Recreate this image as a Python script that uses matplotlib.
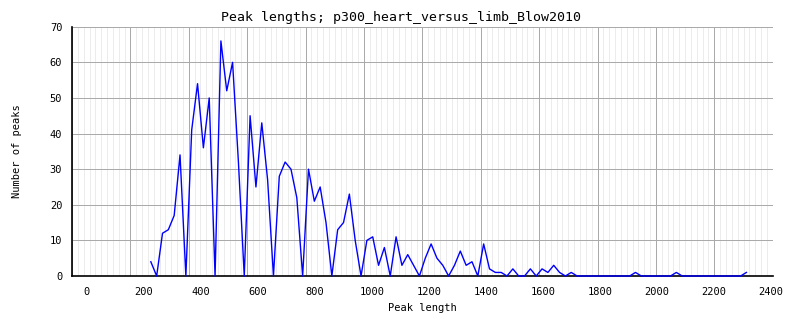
import numpy as np
import matplotlib
matplotlib.use("Agg")
import matplotlib.pyplot as plt

# Peak length bins (20-unit bins)
lengths = np.arange(270, 2311, 20)
counts = [4, 0, 12, 13, 17, 34, 0, 41, 54, 36, 50, 0, 66, 52, 60, 32, 0,
          45, 25, 43, 27, 0, 28, 32, 30, 22, 0, 30, 21, 25, 15, 0,
          13, 15, 23, 10, 0, 10, 11, 3, 8, 0, 11, 3, 6, 3, 0,
          5, 9, 5, 3, 0, 3, 7, 3, 4, 0, 9, 2, 1, 1, 0,
          2, 0, 0, 2, 0, 2, 1, 3, 1, 0, 1,
          0, 0, 0, 0, 0, 0, 0, 0, 0, 0,
          1,
          0, 0, 0, 0, 0, 0,
          1,
          0, 0, 0, 0, 0, 0, 0, 0, 0, 0, 0,
          1]

xticks = list(range(0, 2401, 200))
yticks = list(range(0, 71, 10))
title = "Peak lengths; p300_heart_versus_limb_Blow2010"
xlabel = "Peak length"
ylabel = "Number of peaks"

plt.rcParams['font.family'] = ['DejaVu Sans Mono']

W, H = 802, 328
fig = plt.figure(figsize=(W / 100, H / 100), dpi=100)
fig.patch.set_facecolor('white')
ax = fig.add_axes([72 / W, 52 / H, 700.7 / W, 249.3 / H])
ax.set_xlim(0, 2400)
ax.set_ylim(0, 70)
ax.set_xticks(xticks)
ax.set_xticks(list(range(0, 2401, 20)), minor=True)
ax.set_yticks(yticks)
ax.grid(which='major', color='#aaaaaa', lw=0.72, antialiased=False)
ax.grid(which='minor', axis='x', color='#ececec', lw=0.72, antialiased=False)
ax.set_axisbelow(True)
ax.tick_params(axis='x', which='both', length=0, labelbottom=False)
ax.tick_params(axis='y', which='both', length=0, labelsize=7.5, pad=7)
for s in ['top', 'right']:
    ax.spines[s].set_visible(False)
for s in ['left', 'bottom']:
    ax.spines[s].set_color('black')
    ax.spines[s].set_linewidth(1.2)

ax.plot(lengths, counts, color='#0000ff', lw=1.0, zorder=4, clip_on=False)

ax.set_ylabel(ylabel, fontsize=7.5)
ax.yaxis.set_label_coords(-0.071, 0.5)

# tick labels axis (labels are laid out on a slightly different scale)
ax2 = ax.twiny()
ax2.set_xlim(-51.2, 2406)
ax2.xaxis.set_ticks_position('bottom')
ax2.xaxis.set_label_position('bottom')
ax2.set_xticks(xticks)
ax2.tick_params(axis='x', length=0, labelsize=7.5, pad=8)
for s in ax2.spines.values():
    s.set_visible(False)
ax2.set_xlabel(xlabel, fontsize=7.5, labelpad=4)

fig.text(0.5, 1 - 17 / H, title, ha='center', va='center', fontsize=9.5)

fig.savefig("out.png", dpi=100, facecolor='white')
